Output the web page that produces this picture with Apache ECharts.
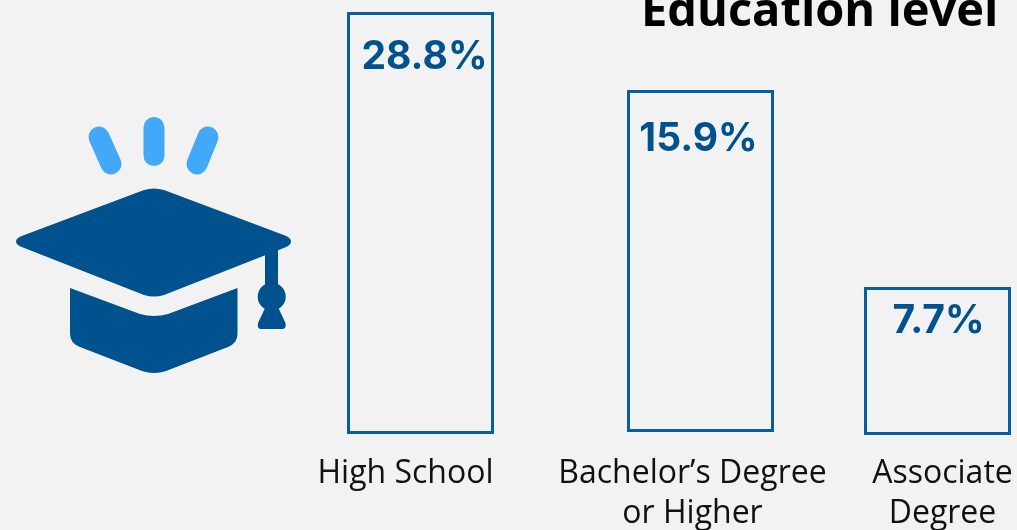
<!DOCTYPE html>
<html>
<head>
<meta charset="utf-8">
<style>
html,body{margin:0;padding:0;background:#f2f2f2;}
#map{width:1017px;height:530px;}
</style>
<script src="https://cdn.jsdelivr.net/npm/echarts@6/dist/echarts.min.js"></script>
</head>
<body>
<div id="map"></div>
<script>
var titleText = "Education level"
var categories = ["High School", "Bachelor’s Degree\nor Higher", "Associate\nDegree"]
var shares = [28.8, 15.9, 7.7]

var darkBlue = "#00528f"
var lineBlue = "#0b5c9e"
var lightBlue = "#42a8f8"

// the three bars are not on one scale in the picture, so each one gets its own panel
var panels = [
    { left: 347, top: 12, width: 147, height: 422, labelX: 4, labelY: 1, nameMargin: 20, namePad: [0, 30, 0, 0] },
    { left: 627, top: 90, width: 147, height: 342, labelX: -2, labelY: 5, nameMargin: 22, namePad: [0, 16, 0, 0] },
    { left: 864, top: 287, width: 147, height: 148, labelX: 1, labelY: -10, nameMargin: 19, namePad: [0, 0, 0, 10] }
]

var grids = []
var xAxes = []
var yAxes = []
var series = []
for (var i = 0; i < shares.length; i++) {
    grids.push({
        left: panels[i].left,
        top: panels[i].top,
        width: panels[i].width,
        height: panels[i].height,
        outerBoundsMode: "none"
    })
    xAxes.push({
        type: "category",
        gridIndex: i,
        data: [categories[i]],
        axisLine: { show: false },
        axisTick: { show: false },
        axisLabel: {
            interval: 0,
            margin: panels[i].nameMargin,
            color: "#111111",
            fontFamily: "Open Sans",
            fontSize: 32,
            lineHeight: 40,
            padding: panels[i].namePad
        }
    })
    yAxes.push({ type: "value", gridIndex: i, min: 0, max: shares[i], show: false })
    series.push({
        type: "bar",
        xAxisIndex: i,
        yAxisIndex: i,
        barWidth: panels[i].width,
        data: [shares[i]],
        silent: true,
        itemStyle: { color: "rgba(0,0,0,0)", borderColor: lineBlue, borderWidth: 3 },
        label: {
            show: true,
            position: "insideTop",
            distance: 25,
            offset: [panels[i].labelX, panels[i].labelY],
            color: darkBlue,
            fontFamily: "Inter",
            fontWeight: 700,
            fontSize: 39,
            formatter: function (p) { return p.value.toFixed(1) + "%" }
        }
    })
}

function ray(x1, y1, x2, y2) {
    return {
        type: "line",
        shape: { x1: x1, y1: y1, x2: x2, y2: y2 },
        style: { stroke: lightBlue, lineWidth: 21, lineCap: "round" }
    }
}
function solid(name, path) {
    echarts.graphic.registerShape(name, echarts.graphic.extendPath(path, {}))
    return { type: name, style: { fill: darkBlue } }
}

// graduation cap icon
var capIcon = [
    ray(99, 137, 111, 164),
    ray(154, 127.5, 154, 155.5),
    ray(208, 137, 197, 164),
    solid("capTop", "M144 190 Q154 187 164 190 L285 235.5 Q291 238 291 241.5 Q291 245 285 247.5 L164 295 Q154 298 144 295 L23 247.5 Q16 245 16 241.5 Q16 238 23 235.5 Z"),
    solid("capSkirt", "M70 288 L140 314 Q154 318 168 314 L237.5 288 L237.5 334 Q237.5 343 228 347 L166 371 Q154 375 142 371 L80 347 Q70 343 70 334 Z"),
    solid("capCord", "M265 252 L278 248 L278 290 L265 290 Z"),
    { type: "circle", shape: { cx: 271.7, cy: 296.7, r: 14 }, style: { fill: darkBlue } },
    solid("capTassel", "M266 306 L277.5 306 L285.5 323 Q286.5 329 282 329 L261 329 Q257 329 258 323 Z")
]

var echart = echarts.init(document.getElementById("map"))
echart.setOption({
    animation: false,
    backgroundColor: "#f2f2f2",
    title: {
        text: titleText,
        left: 636,
        top: -16,
        textStyle: { color: "#000000", fontFamily: "Open Sans", fontWeight: 700, fontSize: 47 }
    },
    grid: grids,
    xAxis: xAxes,
    yAxis: yAxes,
    series: series,
    graphic: capIcon
})
</script>
</body>
</html>
